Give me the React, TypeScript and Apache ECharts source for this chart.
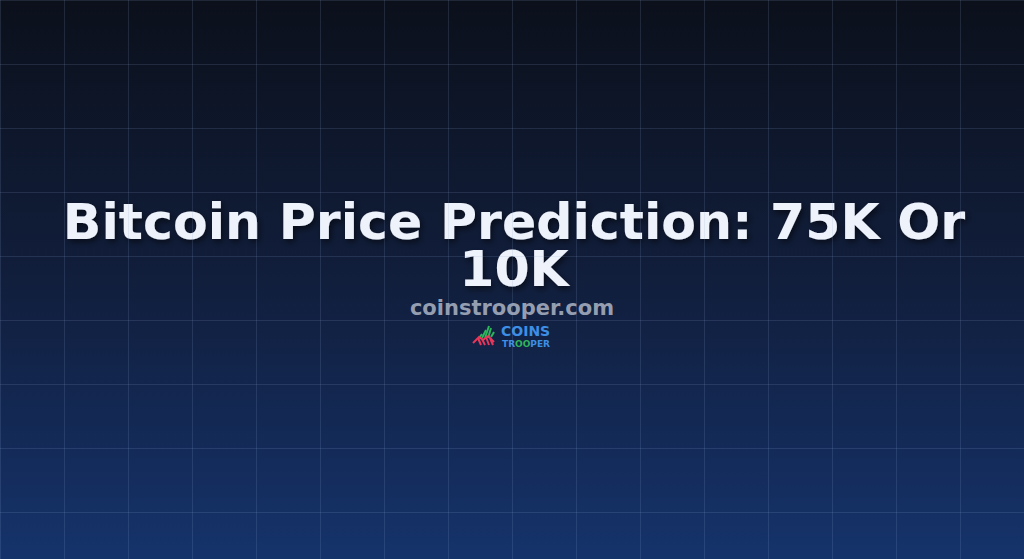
import React, { useEffect, useRef } from 'react';
import * as echarts from 'echarts';

const titleLines = ['Bitcoin Price Prediction: 75K Or', '10K'];
const subtitle = 'coinstrooper.com';
const logoWords = ['COINS', 'TR', 'OO', 'PER'];
const gridStep = 64;
const canvasW = 1024;
const canvasH = 559;

export default function App() {
  const chartRef = useRef<HTMLDivElement>(null);

  useEffect(() => {
    document.body.style.margin = '0';
    if (!chartRef.current) return;
    const chart = echarts.init(chartRef.current, undefined, { renderer: 'svg' });

    const font = 'DejaVu Sans';
    const green = '#2fb55a';
    const red = '#e8375a';
    const option = {
      animation: false,
      backgroundColor: new echarts.graphic.LinearGradient(0, 0, 0, 1, [
        { offset: 0, color: '#0b101b' },
        { offset: 0.5, color: '#111e3c' },
        { offset: 1, color: '#15336b' }
      ]),
      grid: { left: 0, right: 0, top: 0, bottom: 0 },
      xAxis: {
        type: 'value',
        min: 0,
        max: canvasW,
        interval: gridStep,
        axisLine: { show: false },
        axisTick: { show: false },
        axisLabel: { show: false },
        splitLine: { lineStyle: { color: 'rgba(140,165,210,0.16)', width: 1 } }
      },
      yAxis: {
        type: 'value',
        inverse: true,
        min: 0,
        max: canvasH,
        interval: gridStep,
        axisLine: { show: false },
        axisTick: { show: false },
        axisLabel: { show: false },
        splitLine: { lineStyle: { color: 'rgba(140,165,210,0.16)', width: 1 } }
      },
      series: [],
      graphic: [
        {
          type: 'text',
          x: 514,
          y: 244.5,
          style: {
            text: titleLines.join('\n'),
            fill: '#eef2fb',
            font: `bold 50.6px "${font}"`,
            lineHeight: 47,
            textAlign: 'center',
            textVerticalAlign: 'middle',
            textShadowColor: 'rgba(0,0,0,0.55)',
            textShadowBlur: 6,
            textShadowOffsetX: 2,
            textShadowOffsetY: 3
          }
        },
        {
          type: 'text',
          x: 512,
          y: 308,
          style: {
            text: subtitle,
            fill: '#959eb0',
            font: `bold 21px "${font}"`,
            textAlign: 'center',
            textVerticalAlign: 'middle'
          }
        },
        // logo mark: green rising stripes over red stripes
        {
          type: 'group',
          x: 473,
          y: 324,
          children: [
            { type: 'line', shape: { x1: 6, y1: 14, x2: 9, y2: 10 }, style: { stroke: green, lineWidth: 2 } },
            { type: 'line', shape: { x1: 9, y1: 14, x2: 13, y2: 6 }, style: { stroke: green, lineWidth: 2 } },
            { type: 'line', shape: { x1: 12, y1: 14, x2: 16, y2: 2 }, style: { stroke: green, lineWidth: 2 } },
            { type: 'line', shape: { x1: 15, y1: 14, x2: 18, y2: 4 }, style: { stroke: green, lineWidth: 2 } },
            { type: 'line', shape: { x1: 18, y1: 13, x2: 21, y2: 8 }, style: { stroke: green, lineWidth: 2 } },
            { type: 'polyline', shape: { points: [[0, 19], [6, 13], [10, 16], [15, 12], [21, 18]] }, style: { stroke: red, lineWidth: 2, fill: 'none' } },
            { type: 'line', shape: { x1: 5, y1: 14, x2: 8, y2: 21 }, style: { stroke: red, lineWidth: 2 } },
            { type: 'line', shape: { x1: 9, y1: 15, x2: 12, y2: 21 }, style: { stroke: red, lineWidth: 2 } },
            { type: 'line', shape: { x1: 13, y1: 13, x2: 16, y2: 21 }, style: { stroke: red, lineWidth: 2 } },
            { type: 'line', shape: { x1: 17, y1: 14, x2: 20, y2: 21 }, style: { stroke: red, lineWidth: 2 } }
          ]
        },
        {
          type: 'text',
          x: 501,
          y: 331,
          style: {
            text: logoWords[0],
            fill: '#3d8fe6',
            font: `bold 14px "${font}"`,
            textVerticalAlign: 'middle'
          }
        },
        {
          type: 'text',
          x: 502,
          y: 344,
          style: {
            text: `{b|${logoWords[1]}}{g|${logoWords[2]}}{b|${logoWords[3]}}`,
            textVerticalAlign: 'middle',
            rich: {
              b: { fill: '#3d8fe6', font: `bold 9px "${font}"` },
              g: { fill: green, font: `bold 9px "${font}"` }
            }
          }
        }
      ]
    };

    chart.setOption(option as any);

    const handleResize = () => chart.resize();
    window.addEventListener('resize', handleResize);
    return () => {
      window.removeEventListener('resize', handleResize);
      chart.dispose();
    };
  }, []);

  return <div ref={chartRef} style={{ width: canvasW, height: canvasH }} />;
}
